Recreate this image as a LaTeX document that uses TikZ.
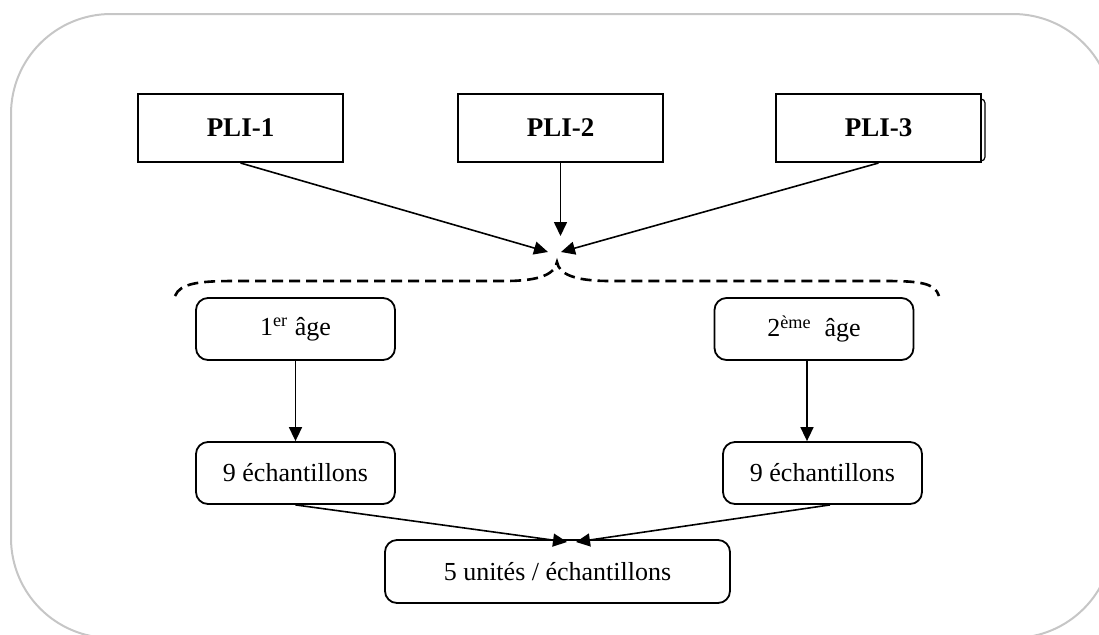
\documentclass[tikz,border=0pt]{standalone}
\usepackage{fontspec}
\setmainfont{Liberation Serif}
\usepackage{tikz}
\usetikzlibrary{arrows.meta,positioning}
\tikzset{
  plibox/.style = {draw, line width=1pt, minimum width=102.5pt, minimum height=34pt,
                   font=\fontsize{13.5}{15}\selectfont\bfseries},
  agebox/.style = {draw, line width=0.9pt, rounded corners=6pt, minimum width=99.5pt,
                   minimum height=31pt, font=\fontsize{13}{15}\selectfont},
  arr/.style    = {-{Triangle[length=7pt,width=6.5pt]}, line width=0.8pt},
  frame/.style  = {draw=gray!45, line width=1pt, rounded corners=50pt},
}

\begin{document}
\begin{tikzpicture}[x=0.5pt,y=-0.5pt]
 \clip (0,0) rectangle (1099,634);
 \draw[frame] (11,14) rectangle (1113,638);
 % top row
 \node[plibox] (pli1) at (240.5,128) {PLI-1};
 \node[plibox] (pli2) at (560.5,128) {PLI-2};
 \node[plibox] (pli3) at (878.5,128) {PLI-3};
 \draw[line width=0.6pt,rounded corners=2pt] (981,99) -- (985,99) -- (985,161) -- (981,161);
 \coordinate (hubL) at (548,252);
 \coordinate (hubM) at (560.5,236);
 \coordinate (hubR) at (561,252);
 \draw[arr] (pli1.south) -- (hubL);
 \draw[arr] (pli2.south) -- (hubM);
 \draw[arr] (pli3.south) -- (hubR);
 % dashed brace
 \draw[line width=1.3pt,dash pattern=on 5.5pt off 3pt]
   (175,296) .. controls (180,283) and (200,281) .. (235,281) -- (505,281)
   .. controls (540,281) and (555,274) .. (557,262)
   .. controls (559,274) and (574,281) .. (610,281) -- (885,281)
   .. controls (920,281) and (935,283) .. (939,296);
 % ages
 \node[agebox] (age1) at (295.5,329) {1\textsuperscript{er} âge};
 \node[agebox] (age2) at (814,329) {2\textsuperscript{ème}\ \ âge};
 \node[agebox] (ech1) at (295.5,473) {9 échantillons};
 \node[agebox] (ech2) at (822.5,473) {9 échantillons};
 \draw[arr] (age1.south) -- (ech1.north);
 \draw[arr] (age2.south-|807,0) -- (ech2.north-|807,0);
 % bottom
 \node[agebox, minimum width=172.5pt, minimum height=31.5pt] (unit) at (557.5,571.5)
   {5 unités / échantillons};
 \coordinate (sinkL) at (567,542);
 \coordinate (sinkR) at (576,542);
 \draw[arr] (ech1.south) -- (sinkL);
 \draw[arr] ([xshift=3.75pt]ech2.south) -- (sinkR);
\end{tikzpicture}
\end{document}
